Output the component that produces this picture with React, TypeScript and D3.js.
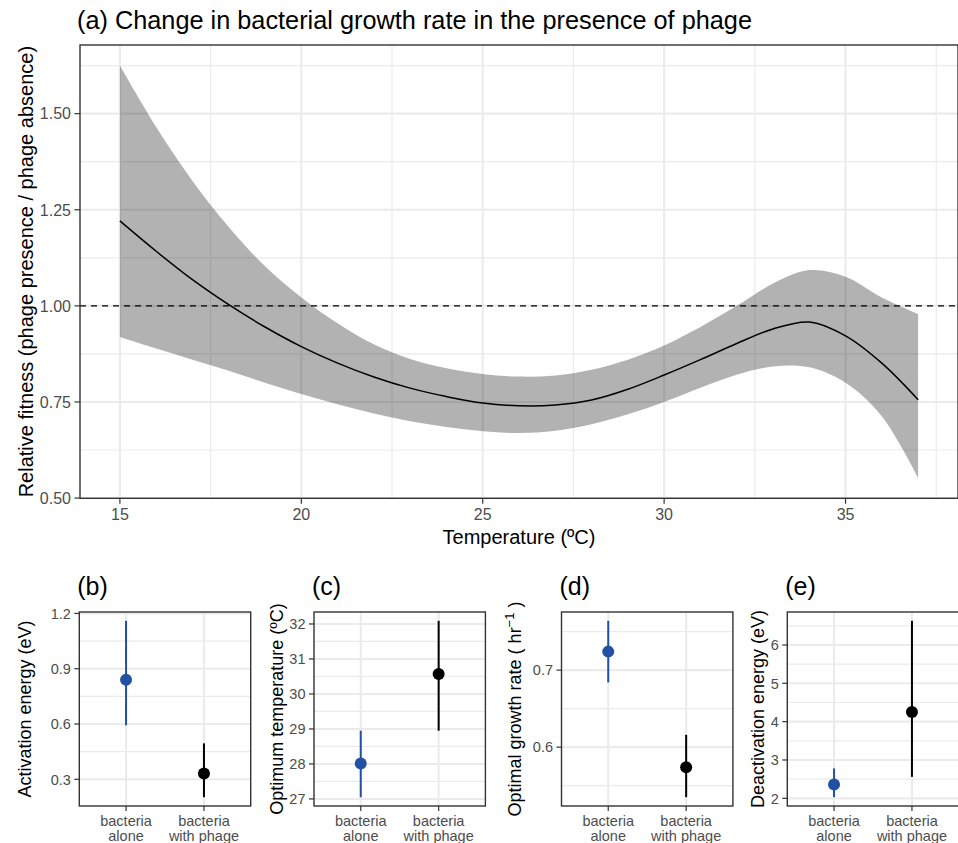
import React from "react";
import * as d3 from "d3";

// ---------- Data ----------
// Panel (a): fitted relative fitness vs temperature
const temps = [15, 16, 17, 18, 19, 20, 21, 22, 23, 24, 25, 26, 27, 28, 29, 30, 31, 32, 33, 34, 35, 36, 37];
const fitMean = [1.221, 1.142, 1.068, 1.003, 0.945, 0.894, 0.851, 0.815, 0.786, 0.764, 0.747, 0.74, 0.742, 0.755, 0.783, 0.82, 0.86, 0.902, 0.94, 0.958, 0.922, 0.851, 0.756];
const fitUpper = [1.625, 1.465, 1.325, 1.205, 1.103, 1.022, 0.955, 0.9, 0.862, 0.838, 0.823, 0.816, 0.819, 0.834, 0.86, 0.897, 0.945, 1.0, 1.058, 1.093, 1.076, 1.022, 0.979];
const fitLower = [0.919, 0.889, 0.86, 0.831, 0.8, 0.771, 0.744, 0.72, 0.7, 0.685, 0.674, 0.669, 0.675, 0.692, 0.718, 0.75, 0.787, 0.821, 0.842, 0.84, 0.8, 0.713, 0.553];
const xTicksA = [15, 20, 25, 30, 35];
const yTicksA = [0.5, 0.75, 1.0, 1.25, 1.5];
const refLine = 1.0;

// Panels (b)-(e)
const groups = ["bacteria alone", "bacteria with phage"];
const groupLines = [["bacteria", "alone"], ["bacteria", "with phage"]];
const groupColors = ["#2251A4", "#000000"];

const actEst = [0.84, 0.332];
const actLo = [0.593, 0.203];
const actHi = [1.16, 0.495];
const actTicks = [0.3, 0.6, 0.9, 1.2];

const toptEst = [28.01, 30.57];
const toptLo = [27.05, 28.95];
const toptHi = [28.95, 32.09];
const toptTicks = [27, 28, 29, 30, 31, 32];

const rateEst = [0.724, 0.574];
const rateLo = [0.684, 0.535];
const rateHi = [0.764, 0.616];
const rateTicks = [0.6, 0.7];

const deactEst = [2.36, 4.25];
const deactLo = [2.03, 2.56];
const deactHi = [2.78, 6.63];
const deactTicks = [2, 3, 4, 5, 6];

// ---------- Styles ----------
const FONT = "'Liberation Sans', Arial, Helvetica, sans-serif";
const GRID = "#EBEBEB";
const BORDER = "#333333";
const TICKTXT = "#4D4D4D";
const MAJ = 2.1;
const MIN = 1.2;

function expand(ext: [number, number], m = 0.05): [number, number] {
  const r = ext[1] - ext[0];
  return [ext[0] - r * m, ext[1] + r * m];
}

function minorTicks(ticks: number[], dom: [number, number]) {
  const step = ticks[1] - ticks[0];
  const out: number[] = [];
  const all = [ticks[0] - step, ...ticks];
  all.forEach((t) => {
    const m = t + step / 2;
    if (m > dom[0] && m < dom[1]) out.push(m);
  });
  return out;
}

function TopPanel() {
  const L = 80, R = 958, T = 45, B = 498.3;
  const xDom = expand(d3.extent(temps) as [number, number]);
  const yDom = expand([d3.min(fitLower)!, d3.max(fitUpper)!]);
  const x = d3.scaleLinear().domain(xDom).range([L, R]);
  const y = d3.scaleLinear().domain(yDom).range([B, T]);
  const rows = temps.map((t, i) => ({ t, m: fitMean[i], lo: fitLower[i], hi: fitUpper[i] }));
  const area = d3
    .area<any>()
    .x((d) => x(d.t))
    .y0((d) => y(d.lo))
    .y1((d) => y(d.hi))
    .curve(d3.curveCatmullRom.alpha(0.5));
  const line = d3
    .line<any>()
    .x((d) => x(d.t))
    .y((d) => y(d.m))
    .curve(d3.curveCatmullRom.alpha(0.5));
  const xMin = minorTicks(xTicksA, xDom);
  const yMin = minorTicks(yTicksA, yDom);
  const fmt = d3.format(".2f");
  return (
    <g>
      <text x={77} y={29} fontSize={25.3} fontFamily={FONT} fill="#000">
        (a) Change in bacterial growth rate in the presence of phage
      </text>
      {xMin.map((t) => (
        <line key={"xm" + t} x1={x(t)} x2={x(t)} y1={T} y2={B} stroke={GRID} strokeWidth={MIN} />
      ))}
      {yMin.map((t) => (
        <line key={"ym" + t} x1={L} x2={R} y1={y(t)} y2={y(t)} stroke={GRID} strokeWidth={MIN} />
      ))}
      {xTicksA.map((t) => (
        <line key={"xM" + t} x1={x(t)} x2={x(t)} y1={T} y2={B} stroke={GRID} strokeWidth={MAJ} />
      ))}
      {yTicksA.map((t) => (
        <line key={"yM" + t} x1={L} x2={R} y1={y(t)} y2={y(t)} stroke={GRID} strokeWidth={MAJ} />
      ))}
      <path d={area(rows)!} fill="#000" fillOpacity={0.3} />
      <line x1={L} x2={R} y1={y(refLine)} y2={y(refLine)} stroke="#000" strokeWidth={1.4} strokeDasharray="6,5" />
      <path d={line(rows)!} fill="none" stroke="#000" strokeWidth={1.5} />
      <rect x={L} y={T} width={R - L} height={B - T} fill="none" stroke={BORDER} strokeWidth={1.4} />
      {yTicksA.map((t) => (
        <g key={"yt" + t}>
          <line x1={L - 5.5} x2={L} y1={y(t)} y2={y(t)} stroke={BORDER} strokeWidth={1.2} />
          <text x={L - 9} y={y(t)} dy="0.36em" textAnchor="end" fontSize={16} fontFamily={FONT} fill={TICKTXT}>
            {fmt(t)}
          </text>
        </g>
      ))}
      {xTicksA.map((t) => (
        <g key={"xt" + t}>
          <line x1={x(t)} x2={x(t)} y1={B} y2={B + 5.5} stroke={BORDER} strokeWidth={1.2} />
          <text x={x(t)} y={B + 22} textAnchor="middle" fontSize={16} fontFamily={FONT} fill={TICKTXT}>
            {t}
          </text>
        </g>
      ))}
      <text x={(L + R) / 2} y={544} textAnchor="middle" fontSize={20} fontFamily={FONT} fill="#000">
        Temperature (ºC)
      </text>
      <text
        transform={`translate(${33},${(T + B) / 2}) rotate(-90)`}
        textAnchor="middle"
        fontSize={20}
        fontFamily={FONT}
        fill="#000"
      >
        Relative fitness (phage presence / phage absence)
      </text>
    </g>
  );
}

type SmallProps = {
  label: string;
  left: number;
  titleX: number;
  est: number[];
  lo: number[];
  hi: number[];
  ticks: number[];
  fmt: (v: number) => string;
  ytitle: React.ReactNode;
};

function SmallPanel({ label, left, titleX, est, lo, hi, ticks, fmt, ytitle }: SmallProps) {
  const W = 171.4, T = 612, B = 806;
  const L = left, R = left + W;
  const yDom = expand([d3.min(lo)!, d3.max(hi)!]);
  const y = d3.scaleLinear().domain(yDom).range([B, T]);
  const x = d3.scalePoint<string>().domain(groups).range([L, R]).padding(0.6);
  const yMin = minorTicks(ticks, yDom);
  return (
    <g>
      <text x={L - 2} y={595} fontSize={25} fontFamily={FONT} fill="#000">
        {label}
      </text>
      {yMin.map((t) => (
        <line key={"m" + t} x1={L} x2={R} y1={y(t)} y2={y(t)} stroke={GRID} strokeWidth={MIN} />
      ))}
      {ticks.map((t) => (
        <line key={"M" + t} x1={L} x2={R} y1={y(t)} y2={y(t)} stroke={GRID} strokeWidth={MAJ} />
      ))}
      {groups.map((g) => (
        <line key={"v" + g} x1={x(g)!} x2={x(g)!} y1={T} y2={B} stroke={GRID} strokeWidth={MAJ} />
      ))}
      {groups.map((g, i) => (
        <g key={"d" + g}>
          <line x1={x(g)!} x2={x(g)!} y1={y(lo[i])} y2={y(hi[i])} stroke={groupColors[i]} strokeWidth={2} />
          <circle cx={x(g)!} cy={y(est[i])} r={6} fill={groupColors[i]} />
        </g>
      ))}
      <rect x={L} y={T} width={W} height={B - T} fill="none" stroke={BORDER} strokeWidth={1.4} />
      {ticks.map((t) => (
        <g key={"t" + t}>
          <line x1={L - 5} x2={L} y1={y(t)} y2={y(t)} stroke={BORDER} strokeWidth={1.2} />
          <text x={L - 8.5} y={y(t)} dy="0.36em" textAnchor="end" fontSize={14.5} fontFamily={FONT} fill={TICKTXT}>
            {fmt(t)}
          </text>
        </g>
      ))}
      {groups.map((g, i) => (
        <g key={"x" + g}>
          <line x1={x(g)!} x2={x(g)!} y1={B} y2={B + 5} stroke={BORDER} strokeWidth={1.2} />
          <text x={x(g)!} textAnchor="middle" fontSize={14.5} fontFamily={FONT} fill={TICKTXT}>
            <tspan x={x(g)!} y={B + 20}>
              {groupLines[i][0]}
            </tspan>
            <tspan x={x(g)!} y={B + 35}>
              {groupLines[i][1]}
            </tspan>
          </text>
        </g>
      ))}
      <text
        transform={`translate(${titleX},${(T + B) / 2}) rotate(-90)`}
        textAnchor="middle"
        fontSize={18}
        fontFamily={FONT}
        fill="#000"
      >
        {ytitle}
      </text>
    </g>
  );
}

export default function App() {
  const f1 = d3.format(".1f");
  const f0 = d3.format("d");
  return (
    <svg
      width={958}
      height={843}
      style={{ position: "absolute", left: 0, top: 0, background: "#fff" }}
      xmlns="http://www.w3.org/2000/svg"
    >
      <rect x={0} y={0} width={958} height={843} fill="#fff" />
      <TopPanel />
      <SmallPanel label="(b)" left={79.3} titleX={31} est={actEst} lo={actLo} hi={actHi} ticks={actTicks} fmt={f1} ytitle="Activation energy (eV)" />
      <SmallPanel label="(c)" left={314} titleX={283} est={toptEst} lo={toptLo} hi={toptHi} ticks={toptTicks} fmt={f0} ytitle="Optimum temperature (ºC)" />
      <SmallPanel
        label="(d)"
        left={561.5}
        titleX={521}
        est={rateEst}
        lo={rateLo}
        hi={rateHi}
        ticks={rateTicks}
        fmt={f1}
        ytitle={
          <>
            Optimal growth rate ( hr
            <tspan dy={-7} fontSize={13}>−1</tspan>
            <tspan dy={7}> )</tspan>
          </>
        }
      />
      <SmallPanel label="(e)" left={787.3} titleX={764} est={deactEst} lo={deactLo} hi={deactHi} ticks={deactTicks} fmt={f0} ytitle="Deactivation energy (eV)" />
    </svg>
  );
}
